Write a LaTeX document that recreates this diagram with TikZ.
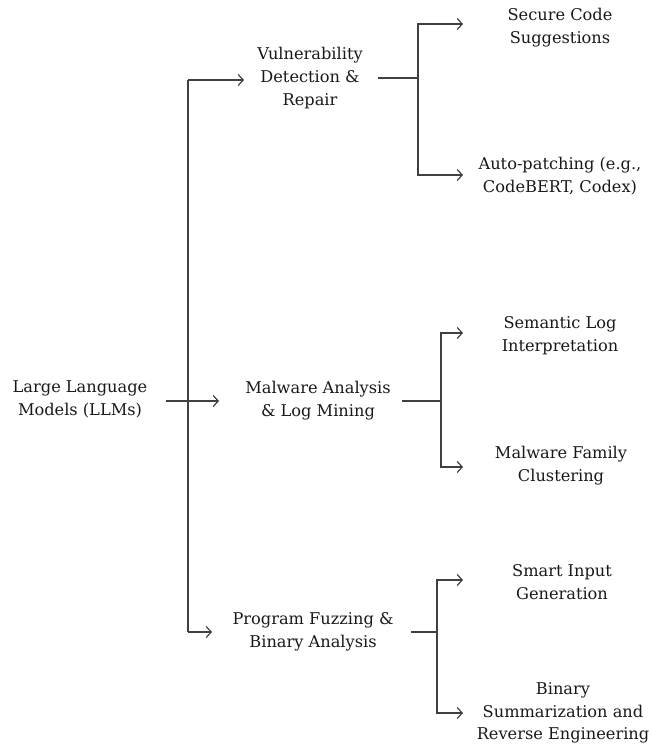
\documentclass[tikz,border=0pt]{standalone}
\usepackage{fontspec}
\setmainfont{DejaVu Serif}
\usetikzlibrary{arrows.meta}
\begin{document}
\begin{tikzpicture}[x=1pt,y=-1pt,
  txt/.style={align=center,font=\fontsize{16.2}{22.8}\selectfont,inner sep=0pt,text=black!90},
  ln/.style={draw=black!75,line width=1.2pt},
  arr/.style={ln,-{Straight Barb[length=5pt,width=11pt,line width=1.2pt]}}]
\useasboundingbox (0,0) rectangle (651,746);
% nodes
\node[txt] (llm) at (80,399) {Large Language\\Models (LLMs)};
\node[txt] (vul) at (310,78) {Vulnerability\\Detection \&\\Repair};
\node[txt] (mal) at (318,401) {Malware Analysis\\\& Log Mining};
\node[txt] (fuz) at (313,632) {Program Fuzzing \&\\Binary Analysis};
\node[txt] (sec) at (560,28) {Secure Code\\Suggestions};
\node[txt] (aut) at (560,176) {Auto-patching (e.g.,\\CodeBERT, Codex)};
\node[txt] (sem) at (560,336) {Semantic Log\\Interpretation};
\node[txt] (clu) at (561,466) {Malware Family\\Clustering};
\node[txt] (sma) at (562,582) {Smart Input\\Generation};
\node[txt] (bin) at (563,713) {Binary\\Summarization and\\Reverse Engineering};
% junctions
\coordinate (r0) at (166,401);
\coordinate (jt) at (188,80);
\coordinate (jb) at (188,632);
\coordinate (v0) at (378,78);
\coordinate (vt) at (418,24);
\coordinate (vb) at (418,175);
\coordinate (m0) at (402,401);
\coordinate (mt) at (441,333);
\coordinate (mb) at (441,467);
\coordinate (f0) at (411,632);
\coordinate (ft) at (437,580);
\coordinate (fb) at (437,713);
% trunk
\draw[arr] (r0) -- (219,401) coordinate (ma);
\draw[ln] (jt) -- (jb);
\draw[arr] (jt) -- (244,80) coordinate (va);
\draw[arr] (jb) -- (212,632) coordinate (fa);
% vulnerability branch
\draw[ln] (v0) -- (vt |- v0);
\draw[arr] (vb) |- (vt) -- (463,24) coordinate (sa);
\draw[arr] (vt) |- (vb) -- (463,175) coordinate (aa);
% malware branch
\draw[ln] (m0) -- (mt |- m0);
\draw[arr] (mb) -- (mt) -- (463,333) coordinate (sema);
\draw[arr] (mt) -- (mb) -- (463,467) coordinate (clua);
% fuzzing branch
\draw[ln] (f0) -- (ft |- f0);
\draw[arr] (fb) -- (ft) -- (463,580) coordinate (smaa);
\draw[arr] (ft) -- (fb) -- (463,713) coordinate (bina);
\end{tikzpicture}
\end{document}
